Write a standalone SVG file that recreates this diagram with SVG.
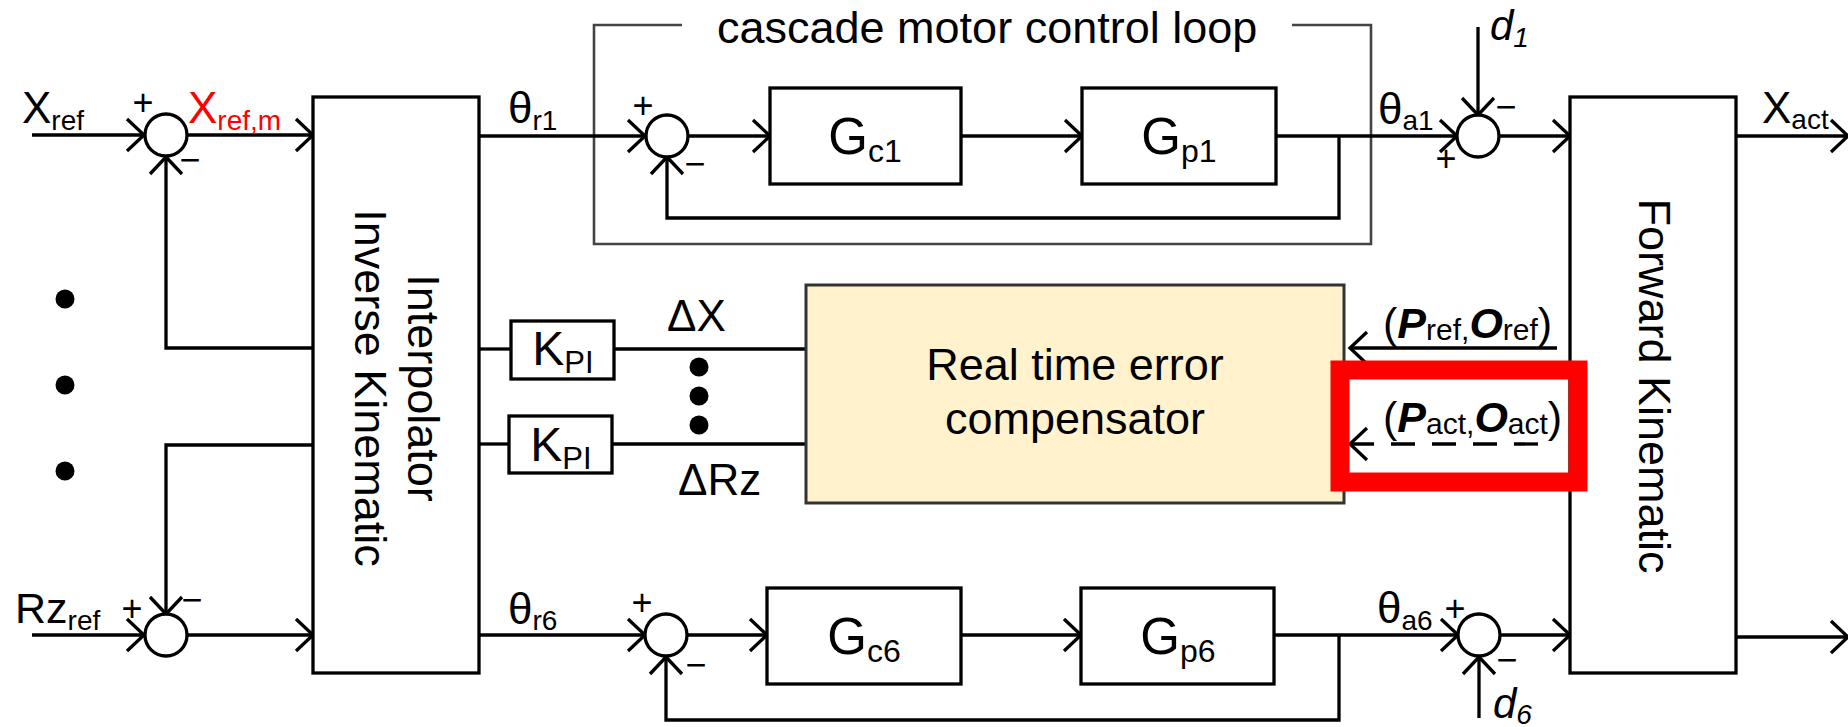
<svg xmlns="http://www.w3.org/2000/svg" width="1848" height="727" viewBox="0 0 1848 727">
  <style>
    text { font-family: "Liberation Sans", Arial, Helvetica, sans-serif; fill: #000; }
    .lbl { font-size: 44px; }
    .sub { font-size: 28px; }
    .blk { font-size: 45px; }
    .gain { font-size: 51px; }
    .gsub { font-size: 32px; }
    .sign { font-size: 36px; text-anchor: middle; }
    .box { fill: #fff; stroke: #000; stroke-width: 3.3; }
    .sum { fill: #fff; stroke: #000; stroke-width: 3.3; }
    .wire { fill: none; stroke: #000; stroke-width: 3.3; }
    .arrow { marker-end: url(#ah); }
    .dot { fill: #000; }
  </style>
  <defs>
    <marker id="ah" viewBox="0 0 40 40" refX="21" refY="20" markerWidth="40" markerHeight="40" markerUnits="userSpaceOnUse" orient="auto-start-reverse">
      <path d="M4,4 L21,20 L4,36" fill="none" stroke="#000" stroke-width="3.3"/>
    </marker>
  </defs>

  <rect width="1848" height="727" fill="#fff"/>

  <!-- cascade motor control loop frame -->
  <g id="cascade-frame">
    <path d="M682,25 H594 V244 H1371 V25 H1292" fill="none" stroke="#444" stroke-width="2.6"/>
    <text x="717" y="43" class="blk">cascade motor control loop</text>
  </g>

  <!-- connectors -->
  <g id="connectors">
    <!-- axis 1 (X) -->
    <path class="wire arrow" d="M32,135 H144"/>
    <path class="wire arrow" d="M187,135 H313"/>
    <path class="wire arrow" d="M313,348 H166 V157"/>
    <path class="wire arrow" d="M480,136 H645"/>
    <path class="wire arrow" d="M688,136 H770"/>
    <path class="wire arrow" d="M961,136 H1082"/>
    <path class="wire arrow" d="M1276,136 H1457"/>
    <path class="wire arrow" d="M1339,136 V218 H667 V157"/>
    <path class="wire arrow" d="M1478,27 V115"/>
    <path class="wire arrow" d="M1499,136 H1570"/>
    <path class="wire arrow" d="M1736,136 H1848"/>
    <!-- axis 6 (Rz) -->
    <path class="wire arrow" d="M32,635 H144"/>
    <path class="wire arrow" d="M187,635 H313"/>
    <path class="wire arrow" d="M313,445 H166 V614"/>
    <path class="wire arrow" d="M480,635 H645"/>
    <path class="wire arrow" d="M687,635 H767"/>
    <path class="wire arrow" d="M961,635 H1081"/>
    <path class="wire arrow" d="M1274,635 H1458"/>
    <path class="wire arrow" d="M1339,635 V720 H666 V657"/>
    <path class="wire arrow" d="M1479,718 V657"/>
    <path class="wire arrow" d="M1500,635 H1570"/>
    <path class="wire arrow" d="M1736,637 H1848"/>
    <!-- compensation paths -->
    <path class="wire" d="M480,349 H511"/>
    <path class="wire" d="M614,349 H806"/>
    <path class="wire" d="M480,444 H509"/>
    <path class="wire" d="M612,444 H806"/>
    <path class="wire arrow" d="M1557,348 H1350"/>
    <path class="wire" d="M1350,444 H1538" stroke-dasharray="24 17" style="marker-start:url(#ah)"/>
  </g>

  <!-- summing junctions -->
  <g id="sum-x">
    <circle class="sum" cx="166" cy="135" r="21"/>
    <text class="sign" x="143" y="115">+</text>
    <text class="sign" x="190" y="172">−</text>
  </g>
  <g id="sum-rz">
    <circle class="sum" cx="166" cy="635" r="21"/>
    <text class="sign" x="132" y="621">+</text>
    <text class="sign" x="192" y="612">−</text>
  </g>
  <g id="sum-m1">
    <circle class="sum" cx="667" cy="136" r="21"/>
    <text class="sign" x="643" y="118">+</text>
    <text class="sign" x="695" y="176">−</text>
  </g>
  <g id="sum-m6">
    <circle class="sum" cx="666" cy="635" r="21"/>
    <text class="sign" x="642" y="615">+</text>
    <text class="sign" x="696" y="677">−</text>
  </g>
  <g id="sum-d1">
    <circle class="sum" cx="1478" cy="136" r="21"/>
    <text class="sign" x="1446" y="171">+</text>
    <text class="sign" x="1506" y="119">−</text>
  </g>
  <g id="sum-d6">
    <circle class="sum" cx="1479" cy="635" r="21"/>
    <text class="sign" x="1455" y="621">+</text>
    <text class="sign" x="1507" y="672">−</text>
  </g>

  <!-- inverse kinematics block -->
  <g id="interpolator">
    <rect class="box" x="313" y="97" width="166" height="576"/>
    <g transform="translate(408,388) rotate(90)">
      <text class="blk" x="0" y="0" text-anchor="middle">Interpolator</text>
      <text class="blk" x="0" y="53" text-anchor="middle">Inverse Kinematic</text>
    </g>
  </g>

  <!-- forward kinematics block -->
  <g id="forward-kinematic">
    <rect class="box" x="1570" y="97" width="166" height="576"/>
    <text class="blk" transform="translate(1639,386) rotate(90)" text-anchor="middle">Forward Kinematic</text>
  </g>

  <!-- controller / plant blocks -->
  <g id="gc1">
    <rect class="box" x="770" y="88" width="191" height="96"/>
    <text x="865" y="154" text-anchor="middle"><tspan class="gain">G</tspan><tspan class="gsub" dy="8">c1</tspan></text>
  </g>
  <g id="gp1">
    <rect class="box" x="1082" y="88" width="194" height="96"/>
    <text x="1179" y="154" text-anchor="middle"><tspan class="gain">G</tspan><tspan class="gsub" dy="8">p1</tspan></text>
  </g>
  <g id="gc6">
    <rect class="box" x="767" y="588" width="194" height="96"/>
    <text x="864" y="654" text-anchor="middle"><tspan class="gain">G</tspan><tspan class="gsub" dy="8">c6</tspan></text>
  </g>
  <g id="gp6">
    <rect class="box" x="1081" y="588" width="193" height="96"/>
    <text x="1178" y="654" text-anchor="middle"><tspan class="gain">G</tspan><tspan class="gsub" dy="8">p6</tspan></text>
  </g>

  <!-- PI gains -->
  <g id="kpi-x">
    <rect class="box" x="511" y="321" width="103" height="58"/>
    <text x="563" y="365" text-anchor="middle"><tspan font-size="48">K</tspan><tspan font-size="31" dy="8">PI</tspan></text>
  </g>
  <g id="kpi-rz">
    <rect class="box" x="509" y="416" width="103" height="57"/>
    <text x="561" y="461" text-anchor="middle"><tspan font-size="48">K</tspan><tspan font-size="31" dy="8">PI</tspan></text>
  </g>

  <!-- error compensator -->
  <g id="compensator">
    <rect x="806" y="285" width="538" height="218" fill="#fff2cc" stroke="#333" stroke-width="3"/>
    <text class="blk" x="1075" y="380" text-anchor="middle">Real time error</text>
    <text class="blk" x="1075" y="434" text-anchor="middle">compensator</text>
  </g>

  <!-- signal labels -->
  <g id="labels">
    <text x="22" y="123"><tspan class="lbl">X</tspan><tspan class="sub" dy="7">ref</tspan></text>
    <text x="188" y="123" style="fill:#ff0000"><tspan class="lbl">X</tspan><tspan class="sub" dy="7">ref,m</tspan></text>
    <text x="15" y="623"><tspan font-size="43">Rz</tspan><tspan class="sub" dy="7">ref</tspan></text>
    <text x="508" y="123"><tspan class="lbl">θ</tspan><tspan class="sub" dy="7">r1</tspan></text>
    <text x="508" y="624"><tspan class="lbl">θ</tspan><tspan class="sub" dy="6">r6</tspan></text>
    <text x="1378" y="124"><tspan class="lbl">θ</tspan><tspan class="sub" dy="6">a1</tspan></text>
    <text x="1377" y="623"><tspan class="lbl">θ</tspan><tspan class="sub" dy="7">a6</tspan></text>
    <text x="1762" y="123"><tspan class="lbl">X</tspan><tspan class="sub" dy="6">act</tspan></text>
    <text x="1490" y="40" font-style="italic"><tspan font-size="42">d</tspan><tspan font-size="28" dy="7">1</tspan></text>
    <text x="1493" y="718" font-style="italic"><tspan font-size="42">d</tspan><tspan font-size="28" dy="6">6</tspan></text>
    <text class="lbl" x="667" y="331">ΔX</text>
    <text class="lbl" x="678" y="495">ΔRz</text>
    <text x="1383" y="338"><tspan font-size="43">(</tspan><tspan font-size="43" font-weight="bold" font-style="italic">P</tspan><tspan font-size="30" dy="2">ref,</tspan><tspan font-size="43" font-weight="bold" font-style="italic" dy="-2">O</tspan><tspan font-size="30" dy="2">ref</tspan><tspan font-size="43" dy="-2">)</tspan></text>
    <text x="1383" y="432"><tspan font-size="43">(</tspan><tspan font-size="43" font-weight="bold" font-style="italic">P</tspan><tspan font-size="30" dy="2">act,</tspan><tspan font-size="43" font-weight="bold" font-style="italic" dy="-2">O</tspan><tspan font-size="30" dy="2">act</tspan><tspan font-size="43" dy="-2">)</tspan></text>
  </g>

  <!-- ellipsis dots -->
  <g id="dots">
    <circle class="dot" cx="65" cy="299" r="9.5"/>
    <circle class="dot" cx="65" cy="385" r="9.5"/>
    <circle class="dot" cx="65" cy="471" r="9.5"/>
    <circle class="dot" cx="699" cy="367" r="9.5"/>
    <circle class="dot" cx="699" cy="396" r="9.5"/>
    <circle class="dot" cx="699" cy="425" r="9.5"/>
  </g>

  <!-- highlight frame -->
  <rect id="highlight" x="1340" y="370" width="238" height="112" fill="none" stroke="#ff0000" stroke-width="19"/>
</svg>
